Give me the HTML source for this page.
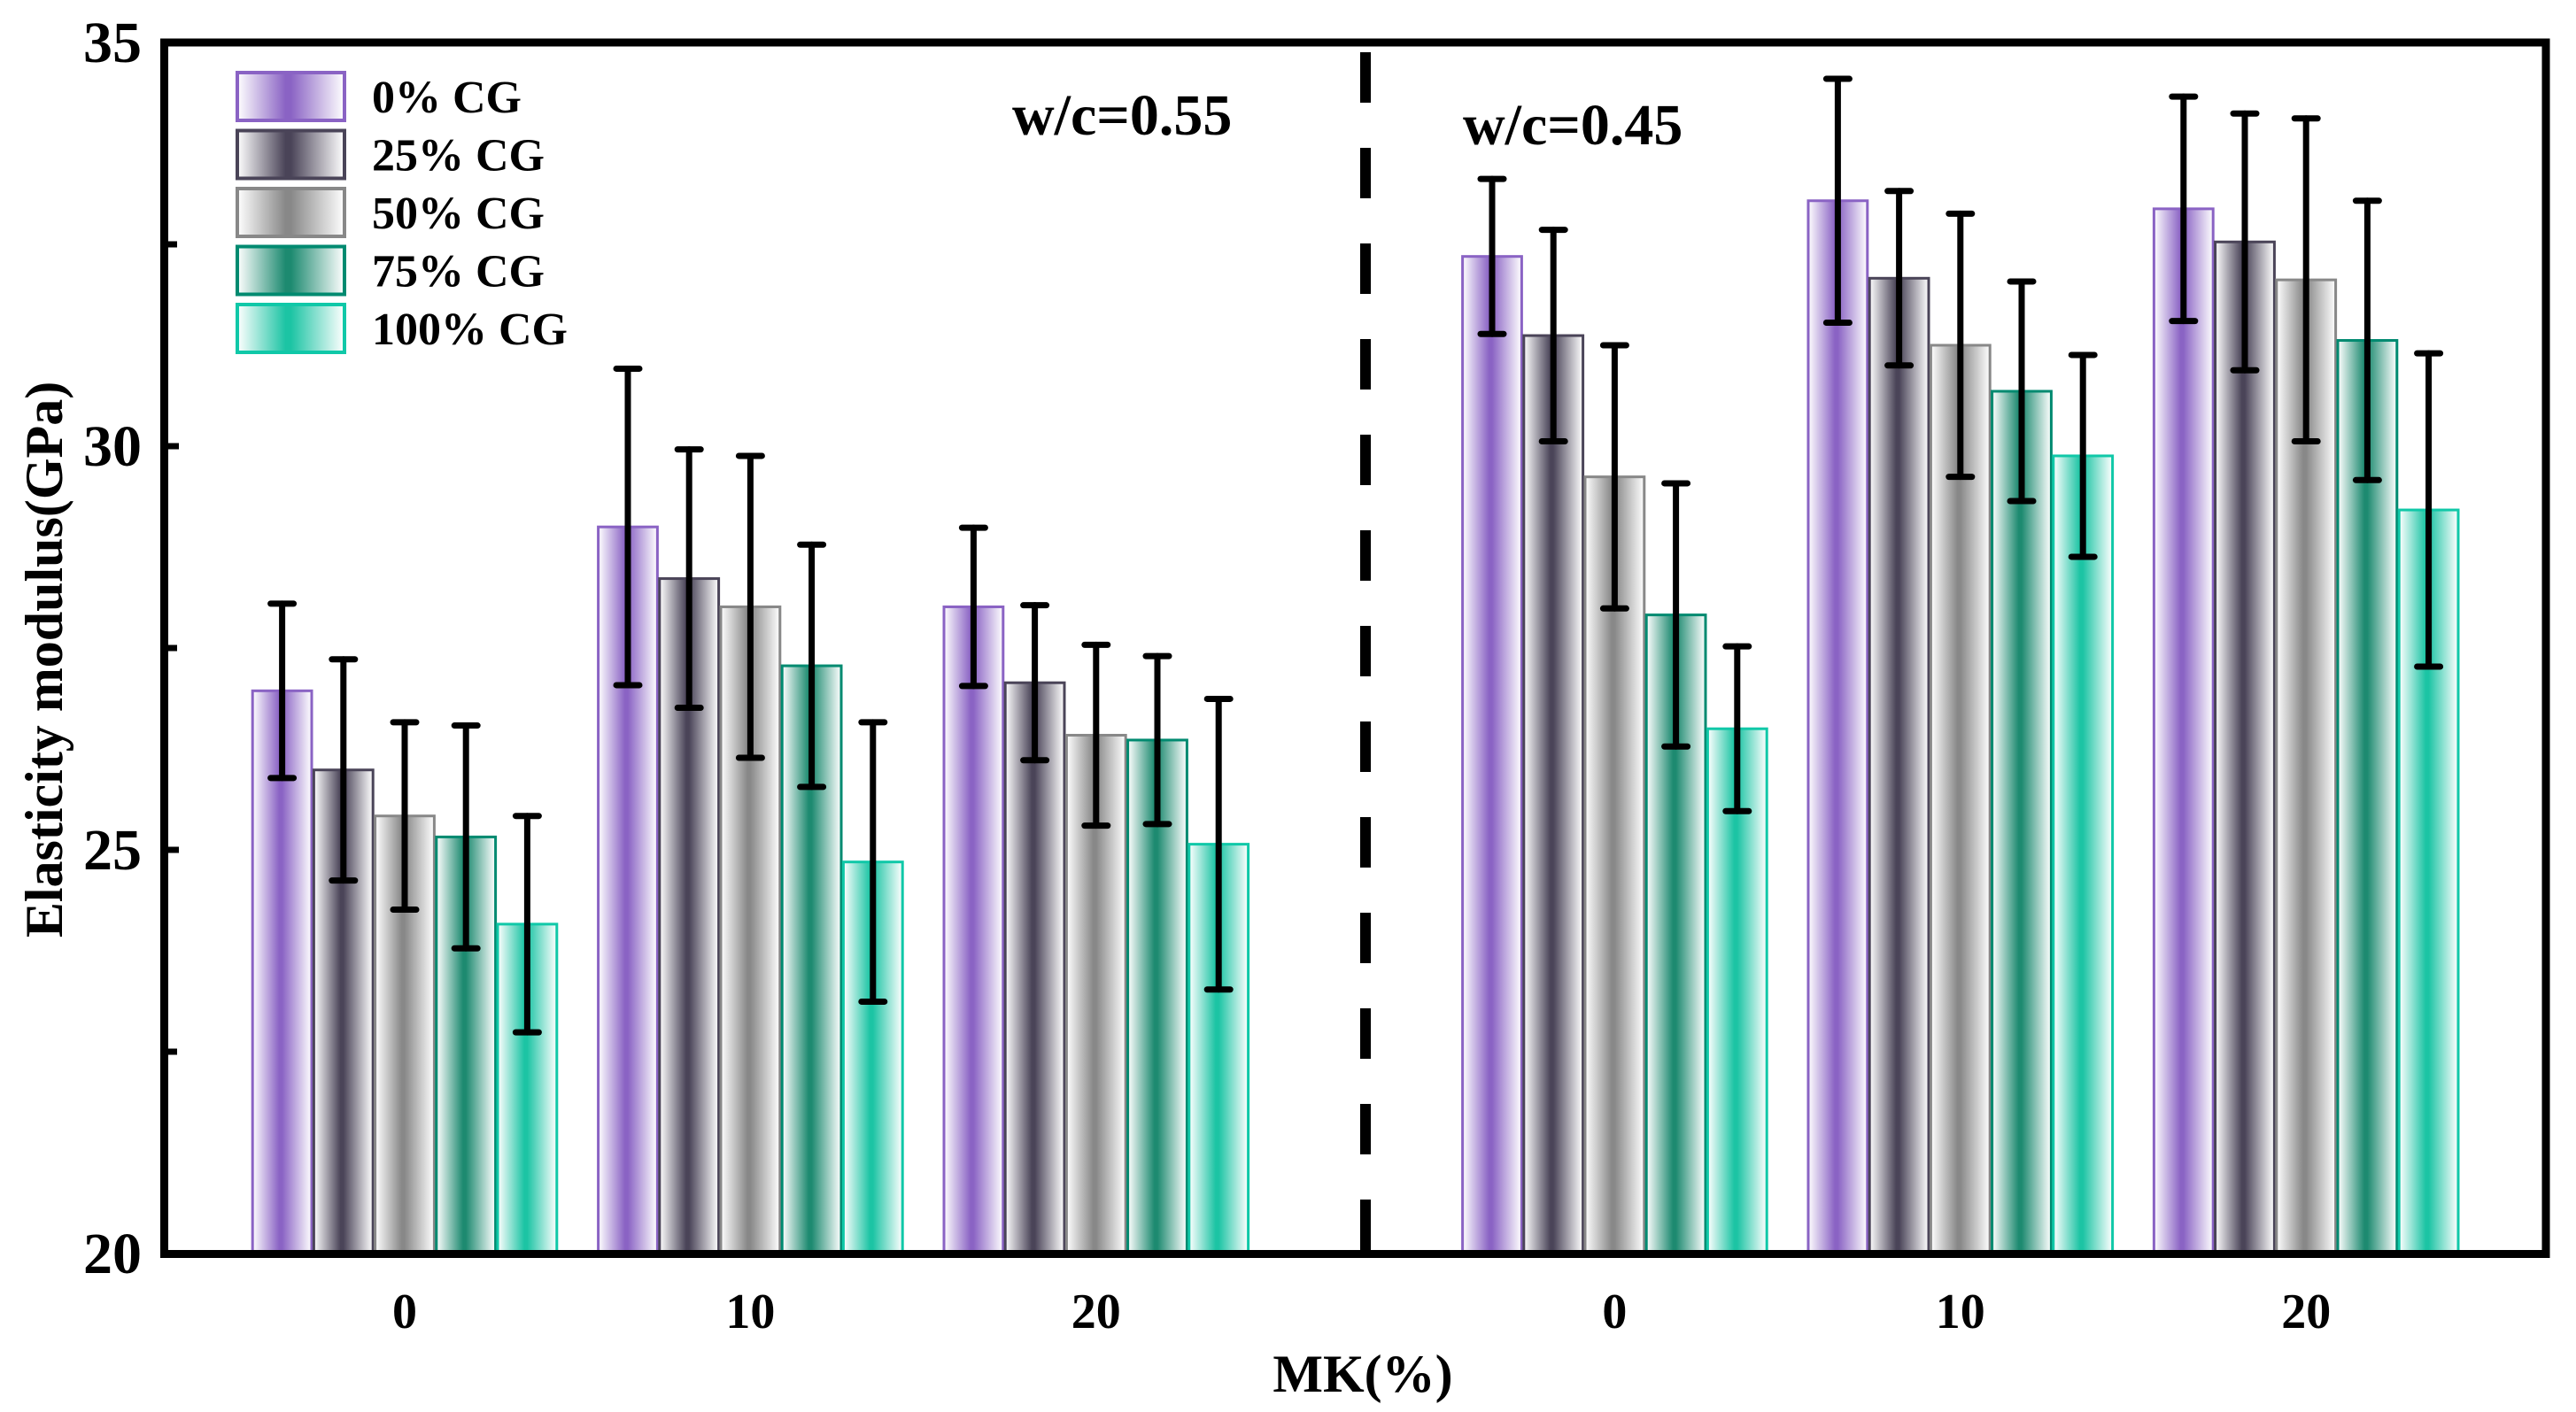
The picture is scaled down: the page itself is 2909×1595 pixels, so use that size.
<!DOCTYPE html>
<html><head><meta charset="utf-8"><style>html,body{margin:0;padding:0;background:#fff}svg{display:block}text{font-family:"Liberation Serif",serif;font-weight:bold}</style></head>
<body>
<svg id="chart" width="2909" height="1595" viewBox="0 0 2909 1595" xmlns="http://www.w3.org/2000/svg">
<defs id="defs"></defs>
<g id="bars"></g>
<g id="errs"></g>
<line x1="1542" y1="59" x2="1542" y2="1412" stroke="#000" stroke-width="12" stroke-dasharray="57 51"/>
<rect x="185.5" y="48" width="2689.5" height="1368.5" fill="none" stroke="#000" stroke-width="9"/>
<g id="yticks"></g>
<g id="xticks"></g>
<text x="1539" y="1572" font-size="60" text-anchor="middle">MK(%)</text>
<text transform="translate(70,745) rotate(-90)" font-size="60" text-anchor="middle">Elasticity modulus(GPa)</text>
<text x="1143" y="152" font-size="66">w/c=0.55</text>
<text x="1652" y="163" font-size="66">w/c=0.45</text>
<g id="legend"></g>
</svg>
<script>
const categories = ["0","10","20","0","10","20"];
const series = ["0% CG","25% CG","50% CG","75% CG","100% CG"];
const v0 = [26.97, 29.00, 28.01, 32.35, 33.04, 32.94];
const v25 = [25.99, 28.36, 27.07, 31.37, 32.08, 32.53];
const v50 = [25.42, 28.01, 26.42, 29.62, 31.25, 32.06];
const v75 = [25.16, 27.28, 26.36, 27.91, 30.68, 31.31];
const v100 = [24.08, 24.85, 25.07, 26.50, 29.88, 29.21];
const e0 = [1.08, 1.96, 0.98, 0.96, 1.51, 1.39];
const e25 = [1.37, 1.60, 0.96, 1.31, 1.08, 1.59];
const e50 = [1.16, 1.87, 1.12, 1.63, 1.63, 2.00];
const e75 = [1.38, 1.50, 1.04, 1.63, 1.36, 1.73];
const e100 = [1.34, 1.73, 1.80, 1.02, 1.25, 1.94];
const groupSlots = [0, 1, 2, 3.5, 4.5, 5.5];
const yTicks = [20, 25, 30, 35];
const yMinor = [22.5, 27.5, 32.5];

const vals = [v0, v25, v50, v75, v100];
const errs = [e0, e25, e50, e75, e100];
const fills = ["#8A63C4","#4A4458","#888888","#1D8A70","#1CC4A4"];
const strokes = ["#8A63C4","#4A4458","#888888","#008A70","#10C8A8"];
const NS = "http://www.w3.org/2000/svg";
const y = v => 1416 - (v - 20) * 91.2;
const barW = 69.2;
const x = (g, s) => 284 + groupSlots[g] * 390.4 + s * barW;
function mk(tag, attrs, parent){const e=document.createElementNS(NS,tag);for(const k in attrs)e.setAttribute(k,attrs[k]);parent.appendChild(e);return e;}
const defs = document.getElementById('defs');
fills.forEach((c,i)=>{
  const g = mk('linearGradient',{id:'g'+i,x1:'0',x2:'1',y1:'0',y2:'0'},defs);
  mk('stop',{offset:'0','stop-color':'#fff'},g);
  mk('stop',{offset:'0.45','stop-color':c},g);
  mk('stop',{offset:'0.5','stop-color':c},g);
  mk('stop',{offset:'1','stop-color':'#fff'},g);
});
const bars = document.getElementById('bars');
const eg = document.getElementById('errs');
for (let s = 0; s < 5; s++) {
  for (let g = 0; g < 6; g++) {
    const top = y(vals[s][g]);
    const r = mk('rect',{x:x(g,s)+1.2,y:top,width:barW-2.4,height:1415-top,fill:'url(#g'+s+')',stroke:strokes[s],'stroke-width':'3'},bars);
    
    
    const cx = x(g,s) + barW/2;
    const hi = y(vals[s][g] + errs[s][g]), lo = y(vals[s][g] - errs[s][g]);
    const eb = mk('g',{stroke:'#000','stroke-width':'7','stroke-linecap':'round'},eg);
    
    
    mk('line',{x1:cx,x2:cx,y1:hi,y2:lo},eb);
    mk('line',{x1:cx-13,x2:cx+13,y1:hi,y2:hi},eb);
    mk('line',{x1:cx-13,x2:cx+13,y1:lo,y2:lo},eb);
  }
}
const yt = document.getElementById('yticks');
yTicks.forEach(t=>{
  const tx = mk('text',{x:160,y:y(t)+22,'font-size':'66','text-anchor':'end'},yt);
  tx.textContent = t;
  
  
  mk('line',{x1:190,x2:202,y1:y(t),y2:y(t),stroke:'#000','stroke-width':'7'},yt);
});
yMinor.forEach(t=>{ mk('line',{x1:190,x2:200,y1:y(t),y2:y(t),stroke:'#000','stroke-width':'7'},yt); });
const xt = document.getElementById('xticks');
categories.forEach((c,g)=>{
  const tx = mk('text',{x:x(g,2.5),y:1500,'font-size':'56','text-anchor':'middle'},xt);
  tx.textContent = c;
  
  
});
const lg = document.getElementById('legend');
series.forEach((n,i)=>{
  const yy = 82 + i*65.5;
  const r = mk('rect',{x:268,y:yy,width:121,height:54,fill:'url(#g'+i+')',stroke:strokes[i],'stroke-width':'4'},lg);
  
  
  const t = mk('text',{x:420,y:yy+45,'font-size':'52'},lg);
  t.textContent = n;
  
  
});
</script>
</body></html>
